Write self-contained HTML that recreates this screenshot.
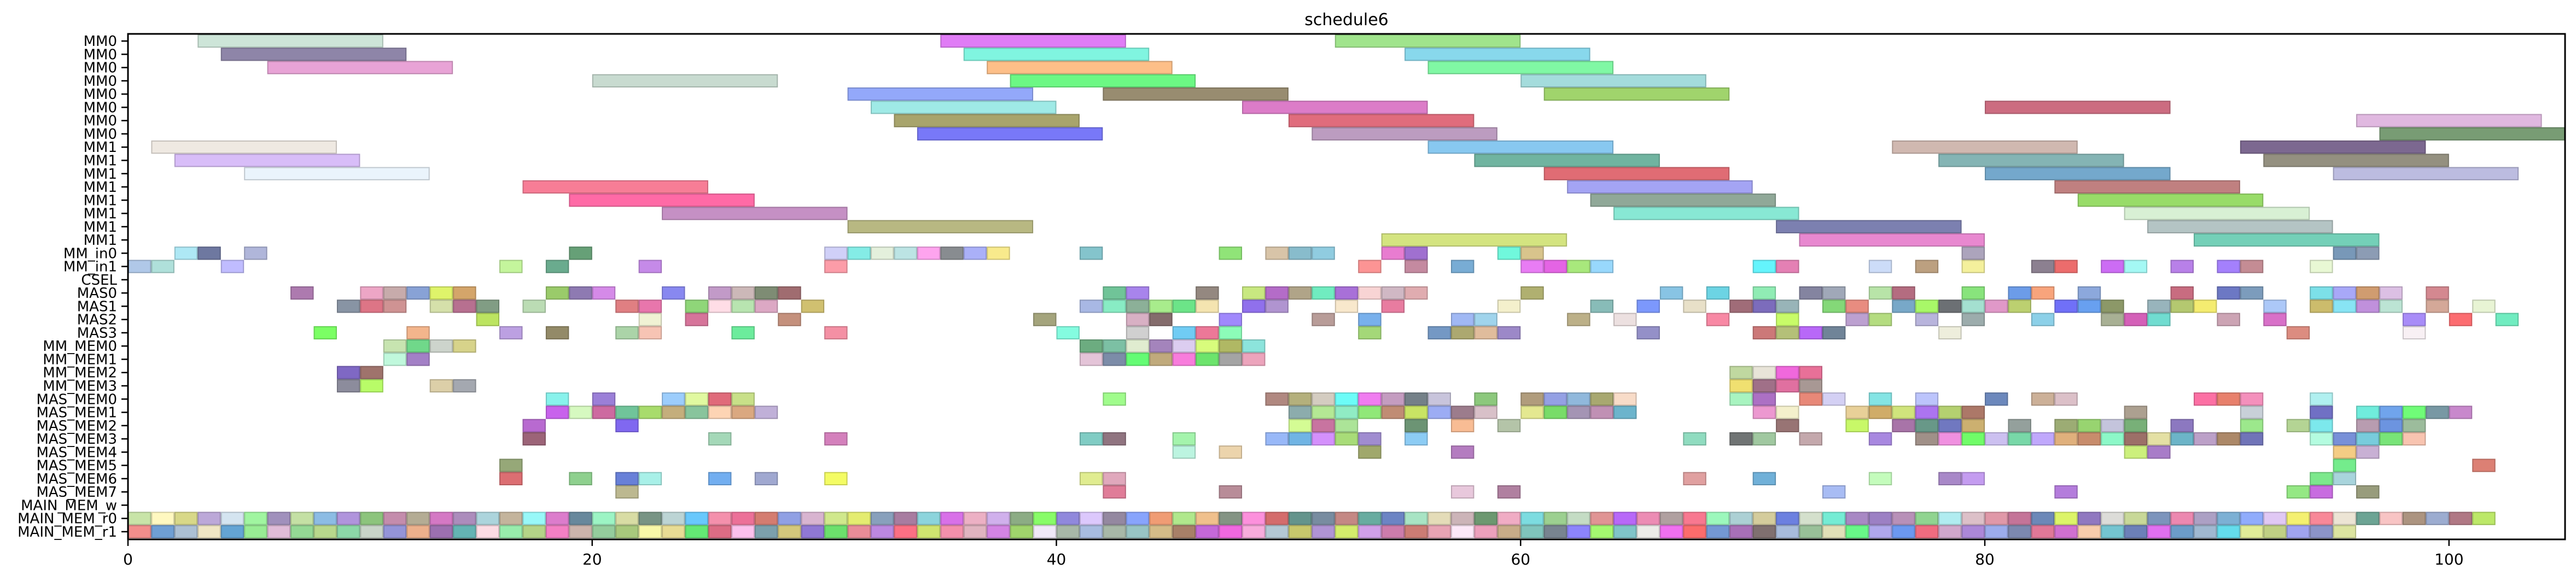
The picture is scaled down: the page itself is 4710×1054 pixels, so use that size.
<!DOCTYPE html>
<html><head><meta charset="utf-8"><title>schedule6</title>
<style>
html,body{margin:0;padding:0;background:#fff;}
svg{display:block;font-family:"DejaVu Sans","Liberation Sans",sans-serif;}
</style></head>
<body>
<svg id="chart" width="4710" height="1054" viewBox="0 0 4710 1054" xmlns="http://www.w3.org/2000/svg">
<text x="2462" y="46" font-size="30" text-anchor="middle">schedule6</text>
<g id="marks"></g>
<g id="axes"></g>
</svg>
<script>
const rowLabels = ["MM0","MM0","MM0","MM0","MM0","MM0","MM0","MM0","MM1","MM1","MM1","MM1","MM1","MM1","MM1","MM1","MM_in0","MM_in1","CSEL","MAS0","MAS1","MAS2","MAS3","MM_MEM0","MM_MEM1","MM_MEM2","MM_MEM3","MAS_MEM0","MAS_MEM1","MAS_MEM2","MAS_MEM3","MAS_MEM4","MAS_MEM5","MAS_MEM6","MAS_MEM7","MAIN_MEM_w","MAIN_MEM_r0","MAIN_MEM_r1"];
const xTicks = [0,20,40,60,80,100];
const xDomain = [0,105];

// long bars (MM units)
const barRow   = [0,0,0, 1,1,1, 2,2,2, 3,3,3, 4,4,4, 5,5,5, 6,6,6, 7,7,7, 8,8,8,8, 9,9,9,9, 10,10,10,10, 11,11,11, 12,12,12, 13,13,13, 14,14,14, 15,15,15];
const barStart = [3,35,52, 4,36,55, 6,37,56, 20,38,60, 31,42,61, 32,48,80, 33,50,96, 34,51,97, 1,56,76,91, 2,58,78,92, 5,61,80,95, 17,62,83, 19,63,84, 23,64,86, 31,71,87, 54,72,89];
const barEnd   = [11,43,60, 12,44,63, 14,45,64, 28,46,68, 39,50,69, 40,56,88, 41,58,104, 42,59,105, 9,64,84,99, 10,66,86,100, 13,69,88,103, 25,70,91, 27,71,92, 31,72,94, 39,79,95, 62,80,97];
const barColor = ["#cde5d8","#e07cf6","#a0e48c","#8e85a8","#80f5e0","#88d8ec","#e8a3d6","#fdbf88","#80f8a4","#c8dbd0","#6cf884","#a4dcdc","#93a8fa","#988c70","#a0d46c","#9feae6","#dc7cc8","#cc6c80","#a8a46c","#e06c7c","#e0b8e0","#7878f8","#bc9cc0","#789c74","#efe9e2","#88c8f0","#d0b8b0","#7c6890","#d8bdf8","#70b4a0","#84b4b4","#949080","#eaf4fc","#e06c74","#74a8cc","#bcbce0","#f77d96","#a4a4f4","#c08080","#ff6aa6","#90a898","#98dc68","#c590c4","#88e8d4","#d8f0d4","#b8b882","#7c80b0","#b4c4c4","#d4e480","#e888d0","#74d0b8"];

// unit-length cells: start times per row
const cellStarts = {
16:[2,3,5,19,30,31,32,33,34,35,36,37,41,47,49,50,51,54,55,59,60,79,95,96],
17:[0,1,4,16,18,22,30,53,55,57,60,61,62,63,70,71,75,77,79,82,83,85,86,88,90,91,94],
19:[7,10,11,12,13,14,18,19,20,23,25,26,27,28,42,43,46,48,49,50,51,52,53,54,55,60,66,68,70,72,73,75,76,79,81,82,84,88,90,91,94,95,96,97,99],
20:[9,10,11,13,14,15,17,21,22,24,25,26,27,29,41,42,43,44,45,46,48,49,52,54,59,63,65,67,69,70,71,73,74,76,77,78,79,80,81,83,84,85,87,88,89,92,94,95,96,97,99,101],
21:[15,22,24,28,39,43,44,47,51,53,57,58,62,64,68,71,74,75,77,79,82,85,86,87,90,92,98,100,102],
22:[8,12,16,18,21,22,26,30,40,43,45,46,47,53,56,57,58,59,65,70,71,72,73,78,93,98],
23:[11,12,13,14,41,42,43,44,45,46,47,48],
24:[11,12,41,42,43,44,45,46,47,48],
25:[9,10,69,70,71,72],
26:[9,10,13,14,69,70,71,72],
27:[18,20,23,24,25,26,42,49,50,51,52,53,54,55,56,58,60,61,62,63,64,69,70,72,73,75,77,80,82,83,89,90,91,94],
28:[18,19,20,21,22,23,24,25,26,27,50,51,52,53,54,55,56,57,58,60,61,62,63,64,70,71,74,75,76,77,78,79,86,91,94,96,97,98,99,100],
29:[17,21,50,51,52,55,57,59,71,74,76,77,78,79,81,83,84,85,86,88,91,93,94,96,97,98],
30:[17,25,30,41,42,45,49,50,51,52,53,55,67,69,70,72,75,77,78,79,80,81,82,83,84,85,86,87,88,89,90,91,94,95,96,97,98],
31:[45,47,53,57,86,87,95,96],
32:[16,95,101],
33:[16,19,21,22,25,27,30,41,42,67,70,75,78,79,94,95],
34:[21,42,47,57,59,73,83,93,94,96],
36:[0,1,2,3,4,5,6,7,8,9,10,11,12,13,14,15,16,17,18,19,20,21,22,23,24,25,26,27,28,29,30,31,32,33,34,35,36,37,38,39,40,41,42,43,44,45,46,47,48,49,50,51,52,53,54,55,56,57,58,59,60,61,62,63,64,65,66,67,68,69,70,71,72,73,74,75,76,77,78,79,80,81,82,83,84,85,86,87,88,89,90,91,92,93,94,95,96,97,98,99,100,101],
37:[0,1,2,3,4,5,6,7,8,9,10,11,12,13,14,15,16,17,18,19,20,21,22,23,24,25,26,27,28,29,30,31,32,33,34,35,36,37,38,39,40,41,42,43,44,45,46,47,48,49,50,51,52,53,54,55,56,57,58,59,60,61,62,63,64,65,66,67,68,69,70,71,72,73,74,75,76,77,78,79,80,81,82,83,84,85,86,87,88,89,90,91,92,93,94,95]
};
const cellColors = {
16:["#aee8f5","#6e78a0","#b0b6da","#66a077","#d0d0f8","#84ece6","#e4f0dc","#bce4e4","#fea4ee","#888c90","#aab0f8","#f8ea8c","#84c4cc","#90e478","#d8c4a8","#88bccc","#90cce0","#e87cd0","#a070d0","#70f8dc","#d8c48c","#aca4bc","#7898b8","#8c9cb4"],
17:["#b0c8e8","#afe0da","#c0bcff","#c4f59c","#6aab8e","#c58ae8","#fc9ca8","#fc9494","#c48aa0","#78acd4","#e87cf4","#e464e4","#a8e87c","#98d8fc","#64f4fc","#e480b4","#ccdcf8","#bca080","#f4f09c","#8c8090","#ec6c6c","#cc6cf4","#a4f8f4","#b880e8","#a480fc","#c48c94","#e8f8d4"],
19:["#ad7aaf","#eda6c6","#c7abab","#88a2d6","#dff46a","#d4a56a","#9acb6a","#8e7ab2","#d58ae8","#8888f0","#c29ac8","#ccb8b8","#7e8c74","#a06c70","#70c498","#a884ec","#948880","#c8e880","#b46cc8","#b0a488","#70ecc0","#a870d8","#f8d4d4","#d0b8c4","#e0acb0","#b0b070","#88c4e4","#6cd4e4","#90ecb4","#8484a0","#a0a8b8","#b8e4a8","#b46c80","#88e47c","#6c9ce8","#f8a47c","#8ca8dc","#c86c80","#6c78c4","#7c9cbc","#7ce0e8","#a8a8f8","#d09c70","#dcc0e4","#d48890"],
20:["#8894a4","#dd7586","#cf9393","#d5e0aa","#b77090","#819d84","#bbdcb4","#e07f82","#e876ac","#8fd679","#ffdde6","#b8e4b0","#dca8c4","#d0c070","#a8b8e4","#88ecc4","#8cb098","#a8ec8c","#6ce488","#f4e4b0","#9070ec","#b094d0","#f8e8cc","#e87ca0","#f4f0cc","#88bcb8","#7c98fc","#e8e0c8","#a06c78","#7c6cbc","#98b4b8","#84d878","#e88c80","#78a8c8","#a8f868","#6c7074","#a4e0d0","#e098c8","#bcd070","#7070f8","#68a0f0","#8c9868","#98b4bc","#b4c870","#f4ec70","#acc8f8","#ccbc6c","#88e4f4","#c090dc","#bce4d4","#d4a898","#e8f4d4"],
21:["#bce460","#f0f2d4","#d6749a","#c4907c","#a4a47c","#d8b0c4","#846c6c","#a088fc","#b89c98","#78b0ec","#a0b8f4","#a0d4ec","#bcb088","#ece0e0","#f888a4","#c8fc68","#bca0d0","#b4dc80","#b8b4dc","#9cacac","#8cd0e8","#a8b094","#d460b8","#70dcd0","#cca4b4","#d870c8","#a88cf8","#fc6c70","#70ecc0"],
22:["#7bff64","#f3b58c","#bca0e2","#938a68","#abd4a8","#f7c4b4","#6cec9c","#f490a4","#84fce0","#d0d0d0","#70ccf4","#ec7898","#8cfcb8","#a4d878","#7498c4","#aca870","#e0bc9c","#9c88c8","#9490c8","#cc7878","#b4c078","#b868f8","#708498","#eeeedc","#dc8c80","#f8f0f4"],
23:["#c7e4b0","#70d88a","#cdd4cc","#d7d38a","#6cac80","#7cc0a4","#e0ecd0","#a484bc","#dccdf0","#d8fc7c","#b0b864","#8ce4dc"],
24:["#c0f8dc","#a380c6","#e4c4d8","#7c8ca8","#64fc74","#c0aa7c","#f87cdc","#6ce46c","#a4a4a4","#eca4bc"],
25:["#7f68c4","#9f736c","#c0d8a0","#e8e4d8","#f068dc","#e87098"],
26:["#8c8c9c","#b8fc68","#dccfa8","#a4a8b0","#f0e070","#a07088","#e070a0","#a89894"],
27:["#88f2ec","#9b7fd8","#9ccdfc","#e1f9a0","#e06a7a","#c8e088","#a0fc8c","#b08880","#b4b07c","#d4ccc0","#6cfcf8","#f07cf0","#c49cc0","#748088","#c8c4dc","#8cc87c","#b09c7c","#94a0e4","#90b8dc","#a8a870","#f8dcc8","#a8f4c0","#ac70c4","#e88878","#d4d0f4","#84e4e4","#bcc4fc","#6c88bc","#ccb098","#dcc0c8","#fc70a4","#e8806c","#f490bc","#b0f0f0"],
28:["#c862ec","#d6f9c0","#cd6aa0","#70c49a","#a8dc6c","#c4ae7c","#88c49c","#fdd4b4","#daa880","#c0b0d8","#8cacac","#b4e894","#90ecc4","#90e878","#c08c74","#c8e464","#9cacf4","#9c7c8c","#d8c0c8","#e4e890","#78dc68","#a494b4","#c090b4","#6cb4cc","#ec98d0","#f4f0cc","#e8d098","#d0ac68","#d0e47c","#ac74f0","#b4d070","#ac7868","#aca090","#c8d0d8","#7070c4","#70ecdc","#70a4ec","#70fc78","#7898a4","#c888cc"],
29:["#b86ad0","#8068f0","#d4fc94","#c874a0","#ace498","#6c9474","#f8bc94","#b4c4a8","#987474","#c8f868","#a874a8","#689888","#7078c0","#ccb070","#94a09c","#9cac74","#98d470","#c4c4dc","#78b078","#8c78c0","#9ce88c","#b4d494","#7ce8ec","#b89cb0","#6c94e0","#9cbc9c"],
30:["#9c6478","#a4d8b8","#d480bc","#80ccc4","#907480","#a4f4ac","#98b8f8","#70b4e4","#d490fc","#a8dc78","#a08cd0","#8cccf4","#90dcc0","#707474","#a0c8a0","#c4a8ac","#a888e0","#a09088","#f090e0","#70fc68","#ccc0f0","#78d8a8","#c0a8fc","#e0b07c","#c88c6c","#8cf8c8","#9c7068","#e4e0a4","#6cb4c8","#bca0c8","#ac8868","#7074b8","#b4fce0","#7890d8","#78ccdc","#78e478","#f8c4b0"],
31:["#bcf4e0","#ecd4ac","#a0a86c","#b47cc0","#ccf07c","#a87cc8","#f4cc84","#c8b0d4"],
32:["#96a878","#74ec8c","#dc8074"],
33:["#dc6e72","#8ed08e","#6880d8","#a8f0e8","#72aef0","#a0a8d0","#f4fc64","#e0ec90","#e0a8bc","#e0a0a0","#70b0d8","#c4fcbc","#a888c8","#c49cf0","#7ce88c","#a8d4dc"],
34:["#bcb890","#e07c98","#b88c98","#e8c8dc","#b080a0","#a8bcf4","#b47cdc","#94e884","#c86ce0","#989c7c"],
36:["#c8e4a8","#fff8c0","#d8d888","#bca8d8","#d4e4f0","#a0f5a0","#a090bc","#c4e0a4","#8cbce4","#b094dc","#8cc47c","#c48cac","#b4ac94","#d478c4","#ac8cbc","#acd4dc","#c4b49c","#98f8f8","#dc7ccc","#68889c","#9cf4c4","#d8dca4","#789484","#bcd4d4","#68c8fc","#f490ac",
    "#ec7098","#d47c70","#90a0e4","#d8b4d0","#d0e88c","#e4ec70","#88a0bc","#a87ca0","#8cd4dc","#d870e8","#ecb0c4","#d0b0ec","#8cac84","#88fc68","#9088dc","#dcc8fc","#9488a0","#88a4fc","#f09c74","#b0e88c","#f0c08c","#849484","#fc90dc","#d46c6c","#64948c","#788ca0",
    "#c48884","#68aca0","#6c84c4","#a8e4c4","#e4dcb8","#ccb4b8","#6c9870","#f0acc4","#7cdce0","#9cd090","#c4dcc4","#e09494","#b868f8","#ec8cb4","#b0a0a0","#f87890","#9cf8bc","#acd0d4","#d4cc9c","#6c80e0","#d4e0cc","#74ecd4","#a888c4","#9c80c4","#b890b8","#90d490",
    "#b0ecf0","#dcc0c8","#e098a8","#c47498","#6c88b8","#dcf468","#9078c0","#dcdcd8","#c8d898","#7c94bc","#ec88b0","#aca0c4","#7cb0d4","#90acfc","#e0c8f4","#f4f070","#f88898","#ece4d4","#6ca494","#f8c4c4","#ac9480","#9cacd0","#b07884","#bce868"],
37:["#f28e8c","#6f9fd4","#acc0d4","#f0e6c4","#64a4d4","#98ec94","#e0bcd8","#94d894","#b8d88c","#8cd8a8","#c8d4c8","#9494d8","#ecb08c","#9c70b0","#64b4b4","#fcdce4","#98ecac","#b4d488","#f480c4","#ccb4ac","#94cc9c","#a8c87c","#f8f8a8","#e8dc94","#64e874","#dc6c84",
    "#fcc0ec","#7ca0ac","#d4c87c","#9078d4","#6ce06c","#e88c98","#bc88e0","#fc7084","#d0e470","#f490ac","#e0b4c0","#d484e4","#a0d46c","#f0e8f8","#a8b8a8","#a8bce0","#a8b8a8","#98c4c4","#d4bc88","#a88068","#c468d8","#f068e0","#f8acdc","#b4c8d4","#c8c86c","#b094d4",
    "#d4ec6c","#d0a0e8","#cc7cac","#cc7c74","#e8a4b4","#fce8f8","#eca0bc","#c8ac88","#80c4bc","#788490","#8c84fc","#a4f870","#80c4c8","#ecece8","#f070f0","#fc6c6c","#7498d4","#a870b8","#807070","#a8bcdc","#98c098","#e0e0b8","#68f888","#b0a8ec","#6c98f0","#f06c80",
    "#d0a8cc","#ac88d8","#9cacec","#7c88b0","#e07898","#d070d0","#f8ccac","#74c4d0","#6c80b8","#e070f0","#6c9cc8","#a0b8d0","#64dcec","#e0ec98","#c0d084","#a0a4f0","#8c94c8","#dce4a0"]
};
const cellDur = 1;

// ---- scales ----
const plotL = 234, plotR = 4690, plotT = 62, plotB = 987;
const rowStep = (plotB - plotT) / (rowLabels.length + 0.12);
const row0 = plotT + rowStep * 0.54;
function xScale(v){ return plotL + (v - xDomain[0]) / (xDomain[1] - xDomain[0]) * (plotR - plotL); }
function yCenter(i){ return row0 + i * rowStep; }
function darker(hex){
  const n = parseInt(hex.slice(1),16);
  const r = Math.round(((n>>16)&255)*0.82), g = Math.round(((n>>8)&255)*0.82), b = Math.round((n&255)*0.82);
  return "rgb("+r+","+g+","+b+")";
}
const NS = "http://www.w3.org/2000/svg";
const marks = document.getElementById("marks");
const axes = document.getElementById("axes");
function rect(x0,x1,row,color){
  const r = document.createElementNS(NS,"rect");
  r.setAttribute("x", xScale(x0)+1);
  r.setAttribute("y", yCenter(row)-rowStep/2+1);
  r.setAttribute("width", xScale(x1)-xScale(x0)-2);
  r.setAttribute("height", rowStep-2);
  r.setAttribute("fill", color);
  r.setAttribute("stroke", darker(color));
  r.setAttribute("stroke-width", "2");
  marks.appendChild(r);
  return r;
}
for(let i=0;i<barRow.length;i++){
  const el = rect(barStart[i], barEnd[i], barRow[i], barColor[i]);
  
  
}
Object.keys(cellStarts).forEach(function(k){
  const row = +k, st = cellStarts[k], co = cellColors[k];
  for(let j=0;j<st.length;j++){
    const el = rect(st[j], st[j]+cellDur, row, co[j % co.length]);
    
    
  }
});
// frame
const frame = document.createElementNS(NS,"rect");
frame.setAttribute("x",plotL); frame.setAttribute("y",plotT);
frame.setAttribute("width",plotR-plotL); frame.setAttribute("height",plotB-plotT);
frame.setAttribute("fill","none"); frame.setAttribute("stroke","#000"); frame.setAttribute("stroke-width","3");


axes.appendChild(frame);
// y ticks + labels
rowLabels.forEach(function(lab,i){
  const y = yCenter(i);
  const t = document.createElementNS(NS,"line");
  t.setAttribute("x1",plotL-12); t.setAttribute("x2",plotL); t.setAttribute("y1",y); t.setAttribute("y2",y);
  t.setAttribute("stroke","#000"); t.setAttribute("stroke-width","2.5");
  
  
  axes.appendChild(t);
  const tx = document.createElementNS(NS,"text");
  tx.setAttribute("x",plotL-20); tx.setAttribute("y",y+9);
  tx.setAttribute("font-size","26"); tx.setAttribute("text-anchor","end");
  tx.textContent = lab;
  
  
  axes.appendChild(tx);
});
// x ticks + labels
xTicks.forEach(function(v){
  const x = xScale(v);
  const t = document.createElementNS(NS,"line");
  t.setAttribute("x1",x); t.setAttribute("x2",x); t.setAttribute("y1",plotB); t.setAttribute("y2",plotB+12);
  t.setAttribute("stroke","#000"); t.setAttribute("stroke-width","2.5");
  
  
  axes.appendChild(t);
  const tx = document.createElementNS(NS,"text");
  tx.setAttribute("x",x); tx.setAttribute("y",plotB+46);
  tx.setAttribute("font-size","28"); tx.setAttribute("text-anchor","middle");
  tx.textContent = String(v);
  
  
  axes.appendChild(tx);
});
</script>
</body></html>
